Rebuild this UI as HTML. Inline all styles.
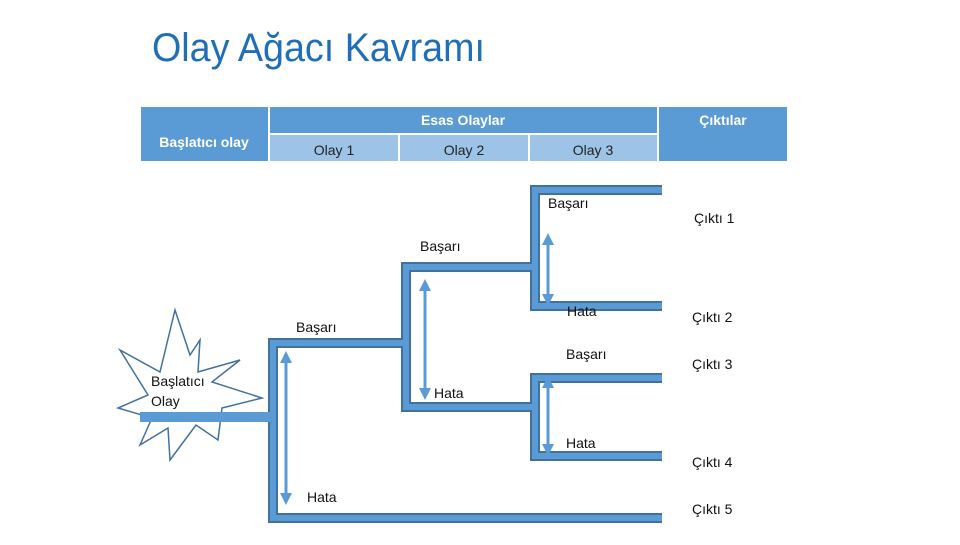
<!DOCTYPE html>
<html><head><meta charset="utf-8"><style>
body{margin:0;width:960px;height:540px;background:#fff;overflow:hidden;font-family:"Liberation Sans",sans-serif}
</style></head><body>
<svg width="960" height="540" viewBox="0 0 960 540" xmlns="http://www.w3.org/2000/svg" font-family="Liberation Sans, sans-serif">
<text x="152" y="61" font-size="40" fill="#1f6fb8" textLength="333" lengthAdjust="spacingAndGlyphs">Olay Ağacı Kavramı</text>
<!-- header -->
<rect x="141" y="107" width="127" height="54" fill="#5b9bd5"/>
<rect x="270" y="107" width="387" height="26" fill="#5b9bd5"/>
<rect x="659" y="107" width="128" height="54" fill="#5b9bd5"/>
<rect x="270" y="135" width="128" height="26" fill="#9dc3e6"/>
<rect x="400" y="135" width="128" height="26" fill="#9dc3e6"/>
<rect x="530" y="135" width="127" height="26" fill="#9dc3e6"/>
<g font-size="14" fill="#fff" font-weight="bold" text-anchor="middle">
<text x="204" y="147">Başlatıcı olay</text>
<text x="463" y="125">Esas Olaylar</text>
<text x="723" y="125">Çıktılar</text>
</g>
<g font-size="14" fill="#222" text-anchor="middle">
<text x="334" y="155">Olay 1</text>
<text x="464" y="155">Olay 2</text>
<text x="593" y="155">Olay 3</text>
</g>
<!-- starburst -->
<polygon points="175,310 190,355 200,340 198,372 240,360 212,382 262,398 222,408 218,440 196,425 170,460 168,428 140,445 152,418 118,408 148,395 120,350 160,372" fill="#fff" stroke="#41719c" stroke-width="1.5"/>
<!-- branches -->
<g fill="none" stroke-linejoin="miter">
<g stroke="#41719c" stroke-width="10">
<polyline points="404,343 273,343 273,518 662,518"/>
<polyline points="535,267 406,267 406,407 535,407"/>
<polyline points="662,190 535,190 535,306 662,306"/>
<polyline points="662,378 535,378 535,456 662,456"/>
</g>
<g stroke="#5b9bd5" stroke-width="6">
<polyline points="404,343 273,343 273,518 662,518"/>
<polyline points="535,267 406,267 406,407 535,407"/>
<polyline points="662,190 535,190 535,306 662,306"/>
<polyline points="662,378 535,378 535,456 662,456"/>
</g>
<rect x="403" y="270" width="6" height="134" fill="#5b9bd5" stroke="none"/>
</g>
<rect x="140" y="412" width="136" height="10" fill="#5b9bd5"/>
<!-- arrows -->
<g stroke="#5b9bd5" stroke-width="3" fill="#5b9bd5">
<line x1="286" y1="360" x2="286" y2="495"/>
<line x1="425" y1="288" x2="425" y2="390"/>
<line x1="548" y1="243" x2="548" y2="296"/>
<line x1="548" y1="386" x2="548" y2="446"/>
</g>
<g fill="#5b9bd5">
<polygon points="286,351 280,363 292,363"/><polygon points="286,505 280,493 292,493"/>
<polygon points="425,279 419,291 431,291"/><polygon points="425,400 419,388 431,388"/>
<polygon points="548,233 542,245 554,245"/><polygon points="548,306 542,294 554,294"/>
<polygon points="548,376 542,388 554,388"/><polygon points="548,456 542,444 554,444"/>
</g>
<g font-size="14" fill="#111">
<text x="548" y="208">Başarı</text>
<text x="694" y="223">Çıktı 1</text>
<text x="420" y="251">Başarı</text>
<text x="567" y="316">Hata</text>
<text x="692" y="322">Çıktı 2</text>
<text x="296" y="332">Başarı</text>
<text x="566" y="359">Başarı</text>
<text x="692" y="369">Çıktı 3</text>
<text x="434" y="398">Hata</text>
<text x="566" y="448">Hata</text>
<text x="692" y="467">Çıktı 4</text>
<text x="307" y="502">Hata</text>
<text x="692" y="514">Çıktı 5</text>
<text x="151" y="386">Başlatıcı</text>
<text x="151" y="406">Olay</text>
</g>
</svg>
</body></html>
